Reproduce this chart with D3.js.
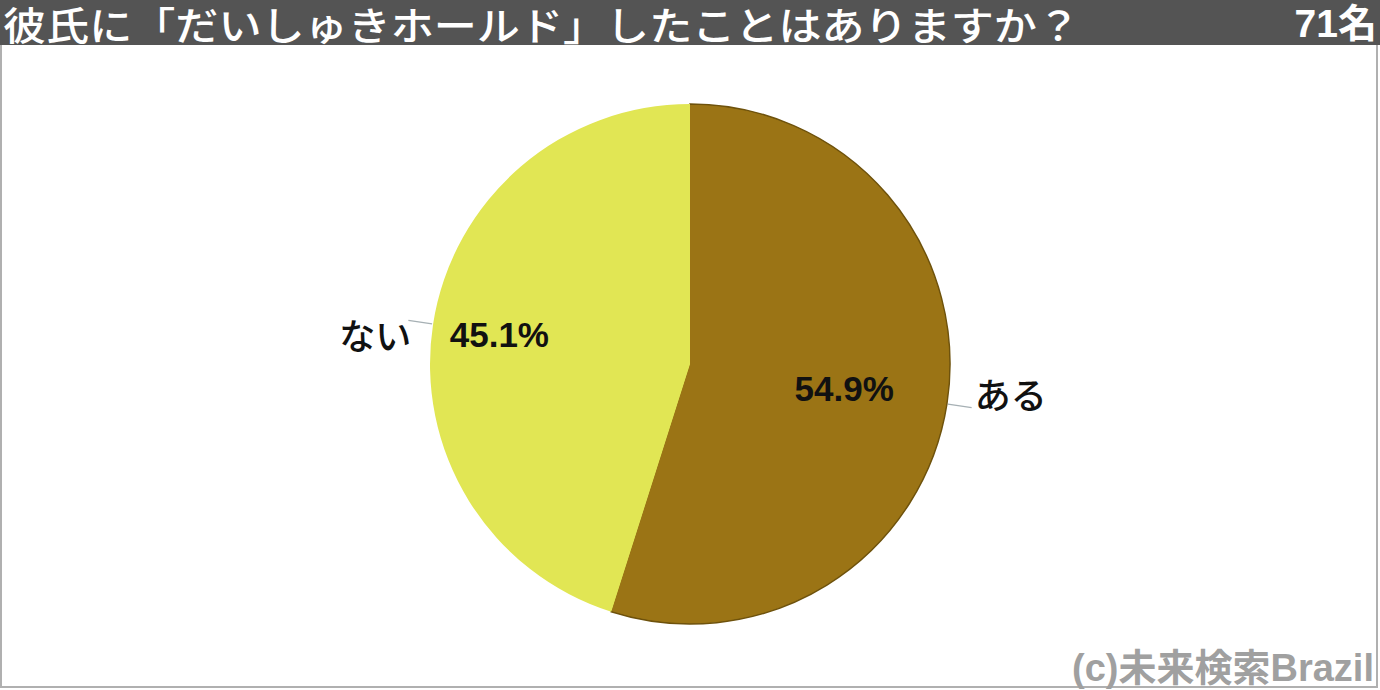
<!DOCTYPE html>
<html><head><meta charset="utf-8">
<script src="https://cdn.jsdelivr.net/npm/d3@7"></script>
<style>body{margin:0;background:#fff}svg{display:block}</style>
</head><body>
<svg id="c" width="1380" height="690"></svg>
<script>
const categories = ["ある", "ない"];
const values = [54.9, 45.1];
const colors = ["#9b7415", "#e1e654"];
const title = "彼氏に「だいしゅきホールド」したことはありますか？";
const countLabel = "71名";
const credit = "(c)未来検索Brazil";

const svg = d3.select("#c");
const W = 1380, H = 690;
const font = "'Noto Sans CJK JP', 'Noto Sans', sans-serif";
const latin = "'Liberation Sans', 'Noto Sans CJK JP', Arial, sans-serif";

// frame
svg.append("rect").attr("x",1).attr("y",1).attr("width",W-4).attr("height",H-4)
  .attr("fill","#fff").attr("stroke","#b0b0b0").attr("stroke-width",2);
svg.append("rect").attr("x",0).attr("y",0).attr("width",W).attr("height",45).attr("fill","#545454");
svg.append("text").attr("x",3).attr("y",40).attr("fill","#fff")
  .attr("font-family",font).attr("font-size",39).attr("font-weight",500)
  .attr("textLength",1077).attr("lengthAdjust","spacingAndGlyphs").text(title);
svg.append("text").attr("x",1377).attr("y",37).attr("fill","#fff").attr("text-anchor","end")
  .attr("font-family",latin).attr("font-size",39).attr("font-weight",700).text(countLabel);

const cx = 690, cy = 364, r = 260;
const pie = d3.pie().sort(null).value(d=>d)(values);
const arc = d3.arc().innerRadius(0).outerRadius(r);
const g = svg.append("g").attr("transform",`translate(${cx},${cy})`);
g.selectAll("path.edge").data(pie).join("path").attr("class","edge")
  .attr("d",arc).attr("fill",(d,i)=>colors[i])
  .attr("stroke",(d,i)=>i===0?"#6e520c":"none").attr("stroke-width",1.5);
g.selectAll("path.fill").data(pie).join("path").attr("class","fill")
  .attr("d",d3.arc().innerRadius(0).outerRadius(r-1)).attr("fill",(d,i)=>colors[i]);

// percentage labels
const pctR = [0.60, 0.742];
pie.forEach((d,i)=>{
  const a = (d.startAngle+d.endAngle)/2;
  const rr = r*pctR[i];
  const x = Math.sin(a)*rr, y = -Math.cos(a)*rr;
  g.append("text").attr("x",x).attr("y",y).attr("text-anchor","middle").attr("dy","0.36em")
    .attr("font-family",latin).attr("font-weight",700)
    .attr("font-size",35).attr("fill","#111").text(d.data.toFixed(1)+"%");
});

// outside labels with leader lines
pie.forEach((d,i)=>{
  const a = (d.startAngle+d.endAngle)/2;
  const x1 = Math.sin(a)*(r+1), y1 = -Math.cos(a)*(r+1);
  const x2 = Math.sin(a)*(r+25), y2 = -Math.cos(a)*(r+25);
  const right = i===0;
  g.append("path").attr("d",`M${x1},${y1}L${x2},${y2}`)
    .attr("fill","none").attr("stroke","#a6b0b4").attr("stroke-width",1.3);
  g.append("text").attr("x",x2+3).attr("y",right ? y2-12 : y2+17).attr("dy","0.36em")
    .attr("text-anchor",right?"start":"end")
    .attr("font-family",font).attr("font-weight",500).attr("font-size",36).attr("fill","#111")
    .text(categories[i]);
});

svg.append("text").attr("x",1374).attr("y",681).attr("text-anchor","end").attr("fill","#a0a0a0")
  .attr("font-family",latin).attr("font-weight",700).attr("font-size",38).text(credit);
</script>
</body></html>
